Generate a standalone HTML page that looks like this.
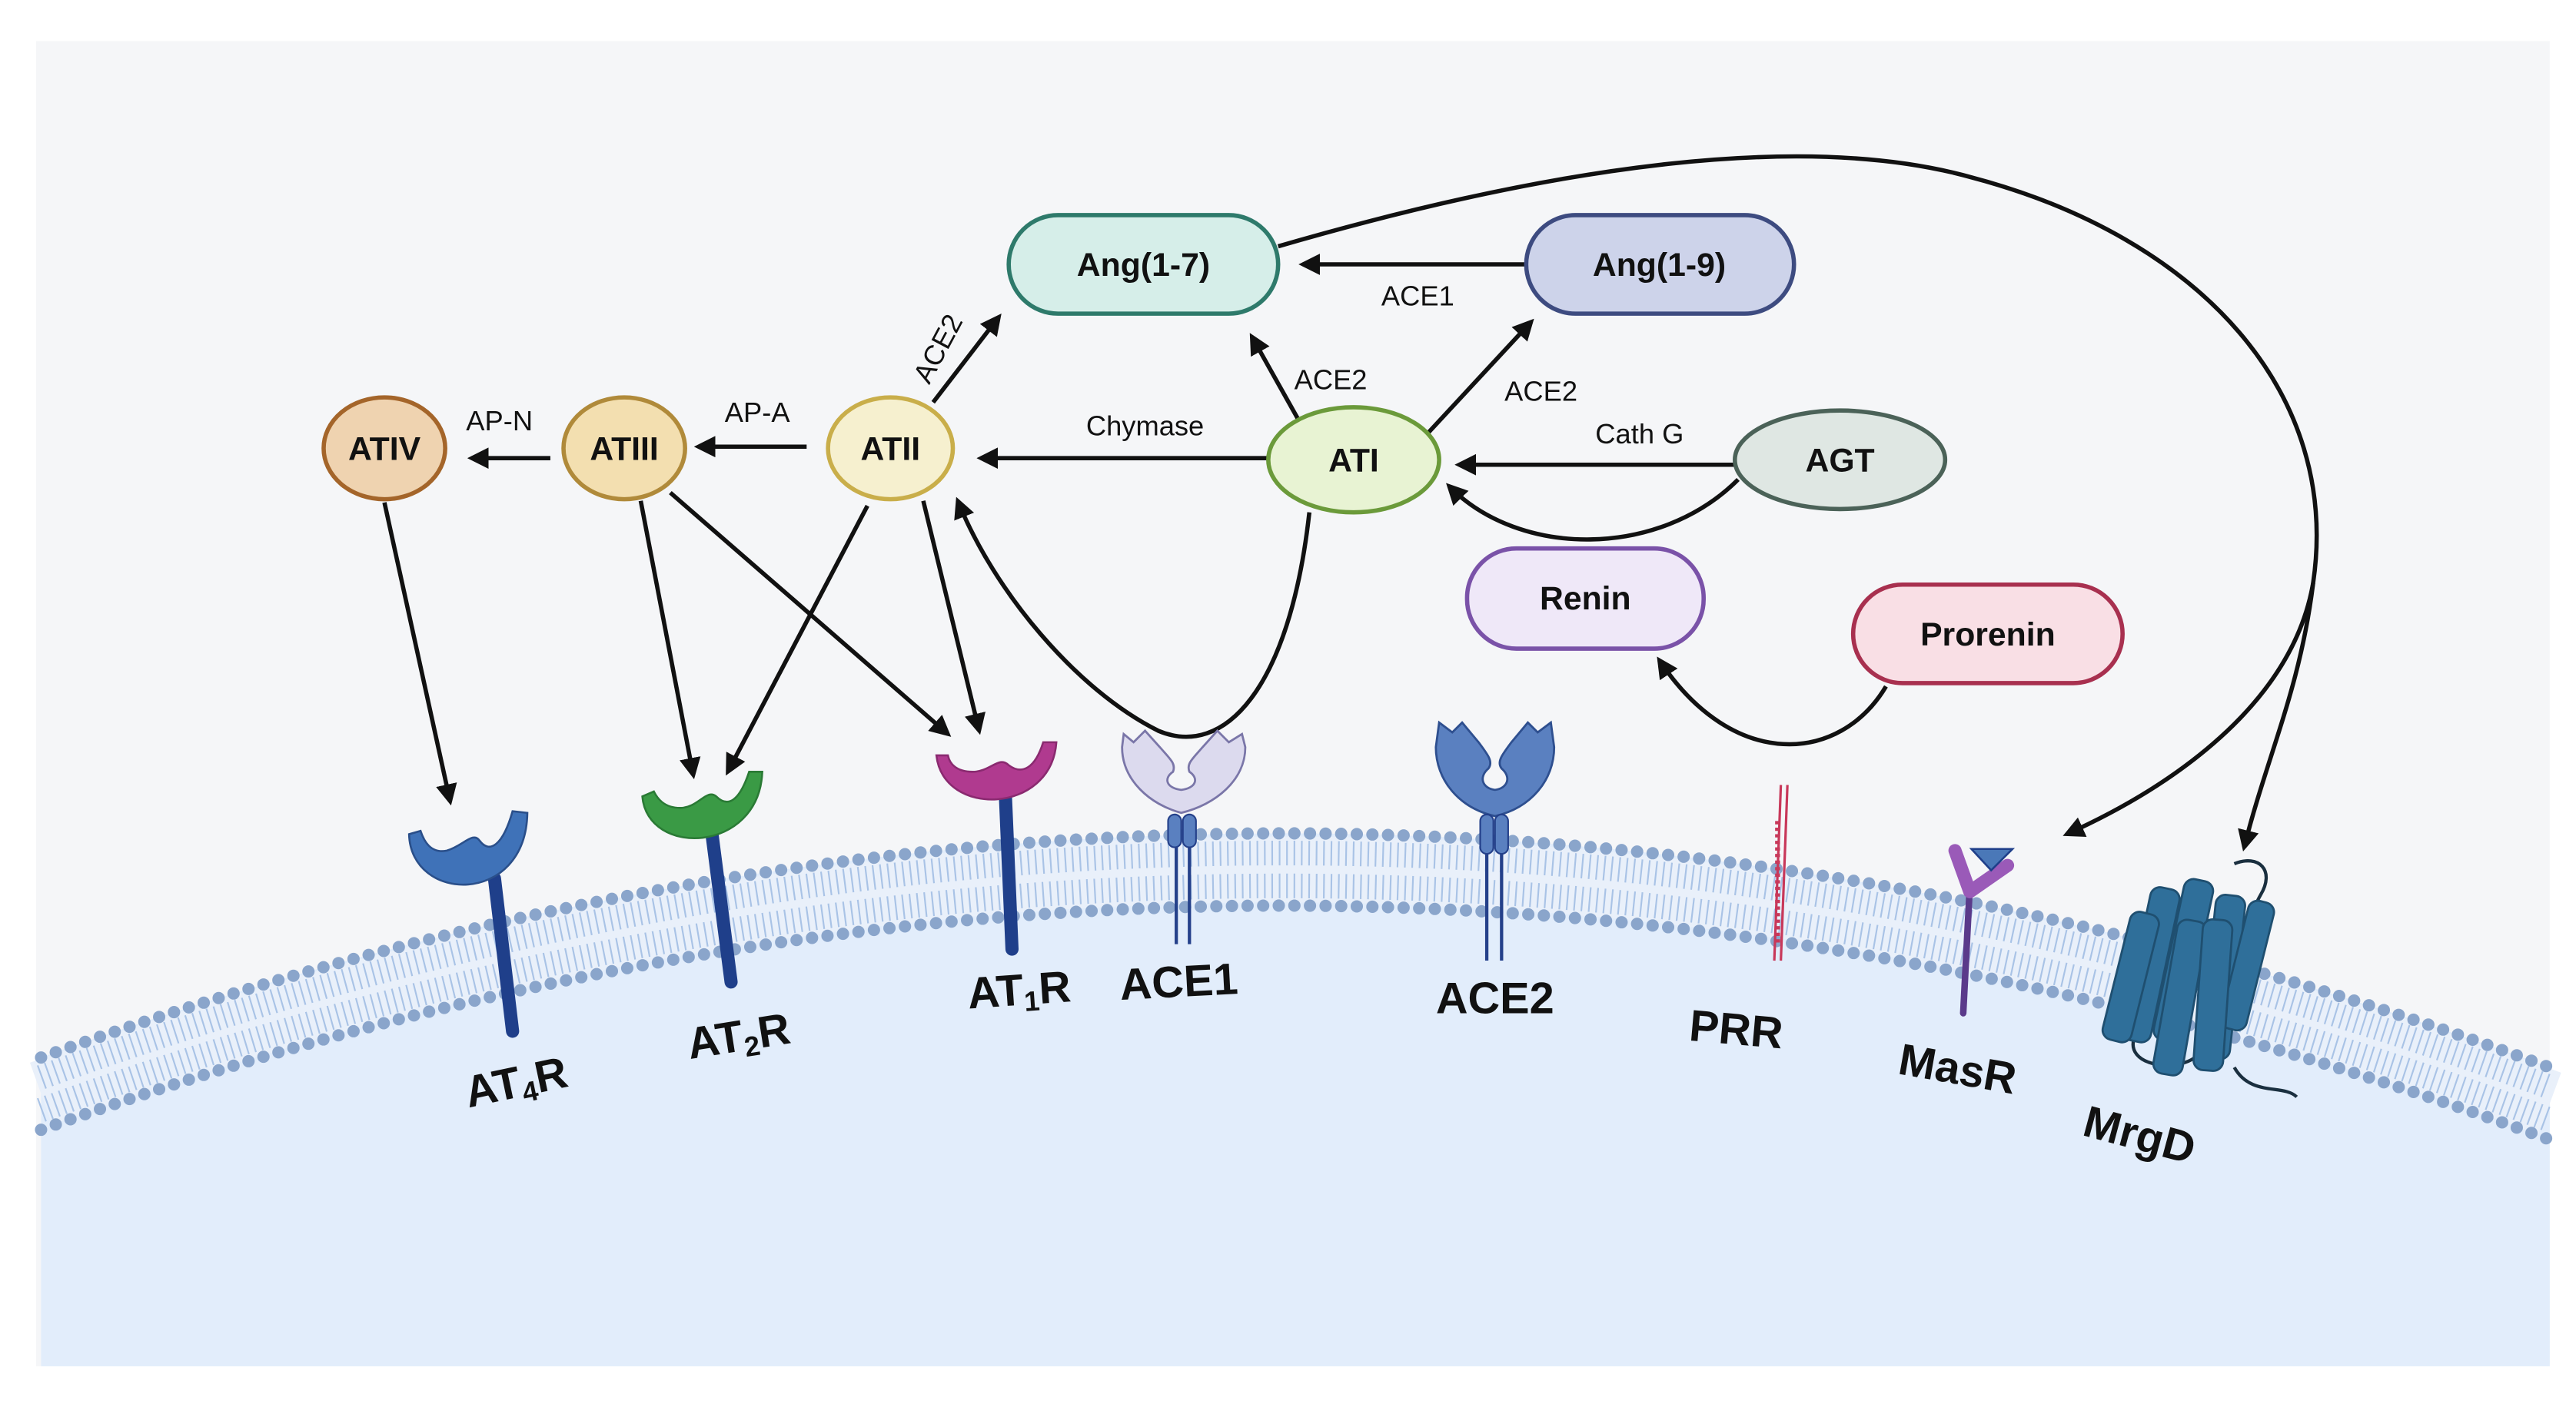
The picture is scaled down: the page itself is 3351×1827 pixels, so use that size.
<!DOCTYPE html>
<html><head><meta charset="utf-8"><style>
html,body{margin:0;padding:0;background:#fff;}
svg{display:block;}
text{font-family:"Liberation Sans Narrow","Liberation Sans",sans-serif;}
</style></head><body>
<svg width="3351" height="1827" viewBox="0 0 1568 855" preserveAspectRatio="none" xmlns="http://www.w3.org/2000/svg">
<defs>
<marker id="ah" viewBox="0 0 10 10" refX="8" refY="5" markerWidth="5" markerHeight="5" orient="auto-start-reverse">
<path d="M0,0 L10,5 L0,10 z" fill="#111"/></marker>
</defs>
<rect x="0" y="0" width="1568" height="855" fill="#fff"/>
<rect x="22" y="25" width="1530" height="807" fill="#f5f6f8"/>
<!-- cell interior -->
<path d="M25,644 Q790,368 1552,650 L1552,832 L25,832 Z" fill="#e2edfb"/>
<!-- membrane tails band -->
<path d="M25,666 Q790,390 1552,672" fill="none" stroke="#e9f0fa" stroke-width="40"/>
<path d="M25,656 Q790,380 1552,662" fill="none" stroke="#a9c3e6" stroke-width="15" stroke-dasharray="1 3.5"/>
<path d="M25,676 Q790,400 1552,682" fill="none" stroke="#a9c3e6" stroke-width="15" stroke-dasharray="1 3.5"/>
<!-- membrane heads -->
<path d="M25,644 Q790,368 1552,650" fill="none" stroke="#8aa5cb" stroke-width="7.5" stroke-linecap="round" stroke-dasharray="0 9.5"/>
<path d="M25,688 Q790,412 1552,694" fill="none" stroke="#8aa5cb" stroke-width="7.5" stroke-linecap="round" stroke-dasharray="0 9.5"/>

<!-- arrows -->
<g stroke="#111" stroke-width="2.6" fill="none" marker-end="url(#ah)">
<line x1="929" y1="161" x2="793" y2="161"/>
<line x1="790" y1="255" x2="762" y2="205"/>
<line x1="868" y1="265" x2="932" y2="196"/>
<line x1="568" y1="245" x2="608" y2="193"/>
<line x1="772" y1="279" x2="597" y2="279"/>
<line x1="1056" y1="283" x2="888" y2="283"/>
<path d="M1058,292 C1010,340 925,340 882,296"/>
<line x1="491" y1="272" x2="425" y2="272"/>
<line x1="335" y1="279" x2="287" y2="279"/>
<path d="M797,312 C785,420 745,462 705,445 C655,420 605,360 583,305"/>
<line x1="234" y1="306" x2="274" y2="488"/>
<line x1="390" y1="305" x2="422" y2="472"/>
<line x1="408" y1="300" x2="577" y2="447"/>
<line x1="528" y1="308" x2="443" y2="470"/>
<line x1="562" y1="305" x2="596" y2="445"/>
<path d="M1148,418 C1120,465 1055,470 1010,402"/>
<path d="M778,150 C950,100 1100,80 1200,108 C1340,145 1425,240 1408,355 C1395,430 1320,480 1258,508"/>
<path d="M1408,355 C1400,420 1380,460 1366,516"/>
</g>

<!-- edge labels -->
<g font-size="17" fill="#111" text-anchor="middle">
<text x="863" y="186">ACE1</text>
<text x="810" y="237">ACE2</text>
<text x="938" y="244">ACE2</text>
<text x="697" y="265">Chymase</text>
<text x="998" y="270">Cath G</text>
<text x="461" y="257">AP-A</text>
<text x="304" y="262">AP-N</text>
<text x="0" y="0" transform="translate(576,215) rotate(-62)">ACE2</text>
</g>

<!-- nodes -->
<g stroke-width="2.6" font-weight="bold" font-size="20" text-anchor="middle">
<rect x="614" y="131" width="164" height="60" rx="30" fill="#d6eee9" stroke="#2e7a6b"/>
<text x="696" y="168" fill="#111" stroke="none">Ang(1-7)</text>
<rect x="929" y="131" width="163" height="60" rx="30" fill="#cdd3ea" stroke="#3d4b80"/>
<text x="1010" y="168" fill="#111" stroke="none">Ang(1-9)</text>
<ellipse cx="234" cy="273" rx="37" ry="31" fill="#efd3b0" stroke="#a4652a"/>
<text x="234" y="280" fill="#111" stroke="none">ATIV</text>
<ellipse cx="380" cy="273" rx="37" ry="31" fill="#f3dfb0" stroke="#b08a3a"/>
<text x="380" y="280" fill="#111" stroke="none">ATIII</text>
<ellipse cx="542" cy="273" rx="38" ry="31" fill="#f6f0cf" stroke="#c9ae4a"/>
<text x="542" y="280" fill="#111" stroke="none">ATII</text>
<ellipse cx="824" cy="280" rx="52" ry="32" fill="#e8f3d3" stroke="#6b9a3a"/>
<text x="824" y="287" fill="#111" stroke="none">ATI</text>
<ellipse cx="1120" cy="280" rx="64" ry="30" fill="#dfe7e3" stroke="#4b6258"/>
<text x="1120" y="287" fill="#111" stroke="none">AGT</text>
<rect x="893" y="334" width="144" height="61" rx="30" fill="#efe8f8" stroke="#7a52a8"/>
<text x="965" y="371" fill="#111" stroke="none">Renin</text>
<rect x="1128" y="356" width="164" height="60" rx="30" fill="#f9dfe5" stroke="#a8304f"/>
<text x="1210" y="393" fill="#111" stroke="none">Prorenin</text>
</g>

<!-- receptors -->
<line x1="301" y1="535" x2="312" y2="628" stroke="#1f3f8a" stroke-width="8" stroke-linecap="round"/>
<path d="M249,508 C250,550 320,552 321,495 L312,494 C306,515 298,520 292,512 C288,506 282,515 272,518 C262,520 258,512 256,506 Z" fill="#3f72b8" stroke="#2a4f8a" stroke-width="1.2"/>
<line x1="433" y1="505" x2="445" y2="598" stroke="#1f3f8a" stroke-width="8" stroke-linecap="round"/>
<path d="M391,485 C394,522 462,520 464,470 L456,470 C450,488 443,492 436,485 C430,480 425,492 414,492 C404,492 400,486 398,482 Z" fill="#3a9a45" stroke="#2a7a35" stroke-width="1.2"/>
<line x1="612" y1="485" x2="616" y2="578" stroke="#1f3f8a" stroke-width="8" stroke-linecap="round"/>
<path d="M570,460 C574,498 640,496 643,452 L635,452 C630,468 622,472 614,466 C608,460 603,470 592,470 C582,470 578,465 577,460 Z" fill="#b03a8f" stroke="#8a2a70" stroke-width="1.2"/>
<g stroke="#24408a" stroke-width="2"><line x1="716" y1="505" x2="716" y2="575"/><line x1="724" y1="505" x2="724" y2="575"/></g>
<path d="M719,495 C700,490 683,475 683,455 L684,447 L690,452 L697,445 L706,455 C712,462 716,465 714,470 C708,474 710,480 719,481 C728,480 730,474 724,470 C722,465 726,462 732,455 L741,445 L748,452 L756,447 L758,455 C758,475 740,490 719,495 Z" fill="#dcdaee" stroke="#7a76a8" stroke-width="1.3"/>
<rect x="711" y="496" width="8" height="20" rx="4" fill="#5a80c0" stroke="#24408a"/><rect x="720" y="496" width="8" height="20" rx="4" fill="#5a80c0" stroke="#24408a"/>
<g stroke="#24408a" stroke-width="2"><line x1="905" y1="505" x2="905" y2="585"/><line x1="914" y1="505" x2="914" y2="585"/></g>
<path d="M910,497 C888,492 874,475 874,455 L876,440 L884,446 L890,440 L900,452 C906,460 909,464 906,468 C900,473 902,480 910,481 C918,480 920,473 914,468 C911,464 914,460 920,452 L930,440 L936,446 L944,440 L946,455 C946,475 932,492 910,497 Z" fill="#5a80c0" stroke="#2e4f8f" stroke-width="1.3"/>
<rect x="901" y="496" width="8" height="24" rx="4" fill="#5a80c0" stroke="#24408a"/><rect x="910" y="496" width="8" height="24" rx="4" fill="#5a80c0" stroke="#24408a"/>
<path d="M1084,478 L1080,585 M1088,478 L1084,585" stroke="#c8385a" stroke-width="1.5" fill="none"/>
<path d="M1082,500 L1082,575" stroke="#c8385a" stroke-width="3" stroke-dasharray="2 2"/>
<line x1="1199" y1="540" x2="1195" y2="617" stroke="#5a3a8a" stroke-width="4" stroke-linecap="round"/>
<path d="M1190,518 L1199,543 L1222,527" stroke="#9a5ab8" stroke-width="8" fill="none" stroke-linejoin="round" stroke-linecap="round"/>
<path d="M1200,517 L1225,517 L1212,530 Z" fill="#4a78b8" stroke="#1f3f8a" stroke-width="1.2"/>
<g fill="#2f6f9a" stroke="#1f4f70" stroke-width="1.3">
<path d="M1360,526 C1375,520 1385,530 1376,545 C1372,552 1372,555 1368,560" fill="none" stroke="#1a2f3f" stroke-width="2"/>
<path d="M1300,630 C1290,650 1330,655 1340,640 M1360,650 C1370,668 1390,660 1398,668" fill="none" stroke="#1a2f3f" stroke-width="2"/>
<rect x="1300" y="540" width="18" height="95" rx="6" transform="rotate(12 1309 588)"/>
<rect x="1320" y="535" width="18" height="100" rx="6" transform="rotate(12 1329 585)"/>
<rect x="1344" y="545" width="18" height="100" rx="6" transform="rotate(6 1353 595)"/>
<rect x="1360" y="548" width="16" height="80" rx="6" transform="rotate(14 1368 588)"/>
<rect x="1288" y="555" width="18" height="80" rx="6" transform="rotate(14 1297 595)"/>
<rect x="1318" y="560" width="18" height="95" rx="6" transform="rotate(10 1327 607)"/>
<rect x="1338" y="560" width="18" height="92" rx="6" transform="rotate(4 1347 606)"/>
</g>

<g font-size="27" font-weight="bold" fill="#111" text-anchor="middle">
<text transform="translate(316,668) rotate(-12)">AT<tspan font-size="17" dy="4">4</tspan><tspan dy="-4">R</tspan></text>
<text transform="translate(451,640) rotate(-9)">AT<tspan font-size="17" dy="4">2</tspan><tspan dy="-4">R</tspan></text>
<text transform="translate(621,612) rotate(-4)">AT<tspan font-size="17" dy="4">1</tspan><tspan dy="-4">R</tspan></text>
<text transform="translate(718,607) rotate(-3)">ACE1</text>
<text x="910" y="617">ACE2</text>
<text transform="translate(1056,636) rotate(5)">PRR</text>
<text transform="translate(1190,660) rotate(10)">MasR</text>
<text transform="translate(1300,700) rotate(15)">MrgD</text>
</g>
</svg>
</body></html>
